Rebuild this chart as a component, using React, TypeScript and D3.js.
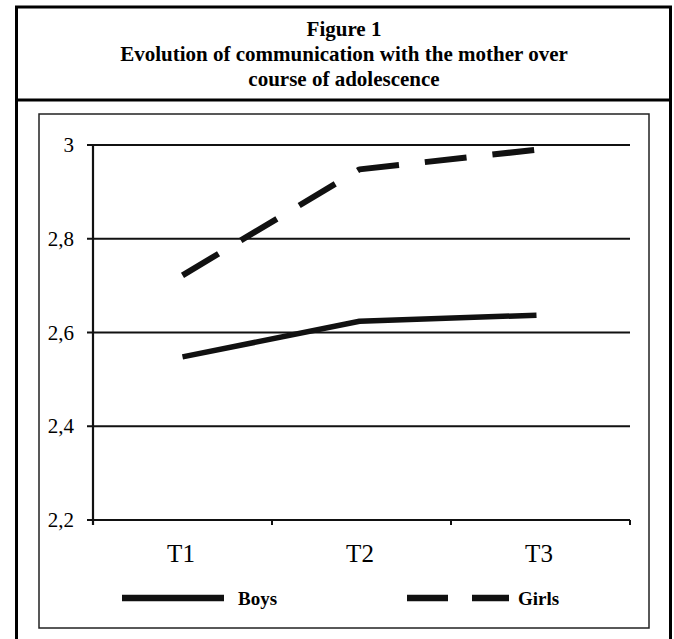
import * as d3 from 'd3';

const periods = ['T1', 'T2', 'T3'];
const boys = [2.548, 2.624, 2.637];
const girls = [2.722, 2.948, 2.99];
const yTicks = [2.2, 2.4, 2.6, 2.8, 3];
const titleLines = ['Figure 1', 'Evolution of communication with the mother over', 'course of adolescence'];

export default function App() {
  const W = 674;
  const H = 639;
  const plot = { left: 93, right: 630, top: 145, bottom: 520 };

  const x = d3.scaleBand<string>().domain(periods).range([plot.left, plot.right]);
  const y = d3.scaleLinear().domain([2.2, 3]).range([plot.bottom, plot.top]);
  const cx = (p: string) => (x(p) as number) + x.bandwidth() / 2;

  // the printed lines stop a little short of the band centres on the right
  const line = d3.line<number>()
    .x((_, i) => cx(periods[i]) - (i === 2 ? 4 : i === 1 ? 2 : 0))
    .y(d => y(d));

  const fmt = (v: number) => (v === 3 ? '3' : v.toFixed(1).replace('.', ','));
  const bandEdges = [...periods.map(p => x(p) as number), plot.right];

  return (
    <svg width={W} height={H} style={{ position: 'absolute', left: 0, top: 0 }}>
      <rect x={0} y={0} width={W} height={H} fill="#fff" />
      {/* outer frame */}
      <rect x={16.5} y={7} width={654} height={H} fill="none" stroke="#000" strokeWidth={3} />
      <line x1={16.5} x2={670.5} y1={100} y2={100} stroke="#000" strokeWidth={3} />
      {titleLines.map((t, i) => (
        <text key={t} x={344} y={36 + i * 25} textAnchor="middle"
          fontFamily="Liberation Serif" fontWeight="bold" fontSize={21}>{t}</text>
      ))}
      {/* inner chart box */}
      <rect x={39} y={114} width={610} height={514} fill="none" stroke="#222" strokeWidth={1.5} />

      {/* gridlines and axes */}
      {yTicks.map(t => (
        <line key={t} x1={plot.left - 6} x2={plot.right} y1={y(t)} y2={y(t)} stroke="#111" strokeWidth={2.2} />
      ))}
      <line x1={plot.left} x2={plot.left} y1={plot.top} y2={plot.bottom + 5} stroke="#111" strokeWidth={2.2} />
      {bandEdges.map((e, i) => (
        <line key={i} x1={e} x2={e} y1={plot.bottom} y2={plot.bottom + 5} stroke="#111" strokeWidth={2} />
      ))}
      {yTicks.map(t => (
        <text key={t} x={74} y={y(t) + 7} textAnchor="end"
          fontFamily="Liberation Serif" fontSize={21}>{fmt(t)}</text>
      ))}
      {periods.map(p => (
        <text key={p} x={cx(p) - 1.5} y={562} textAnchor="middle"
          fontFamily="Liberation Serif" fontSize={25}>{p}</text>
      ))}

      {/* series */}
      <path d={line(boys) ?? ''} fill="none" stroke="#111" strokeWidth={5.5} strokeLinejoin="round" />
      <path d={line(girls) ?? ''} fill="none" stroke="#111" strokeWidth={6} strokeDasharray="42 26" strokeLinejoin="round" />

      {/* legend */}
      <line x1={122} x2={224} y1={598} y2={598} stroke="#111" strokeWidth={6.5} />
      <text x={238} y={605} fontFamily="Liberation Serif" fontWeight="bold" fontSize={19}>Boys</text>
      <line x1={407} x2={509} y1={598} y2={598} stroke="#111" strokeWidth={6.5} strokeDasharray="41 24" />
      <text x={518} y={605} fontFamily="Liberation Serif" fontWeight="bold" fontSize={19}>Girls</text>
    </svg>
  );
}
